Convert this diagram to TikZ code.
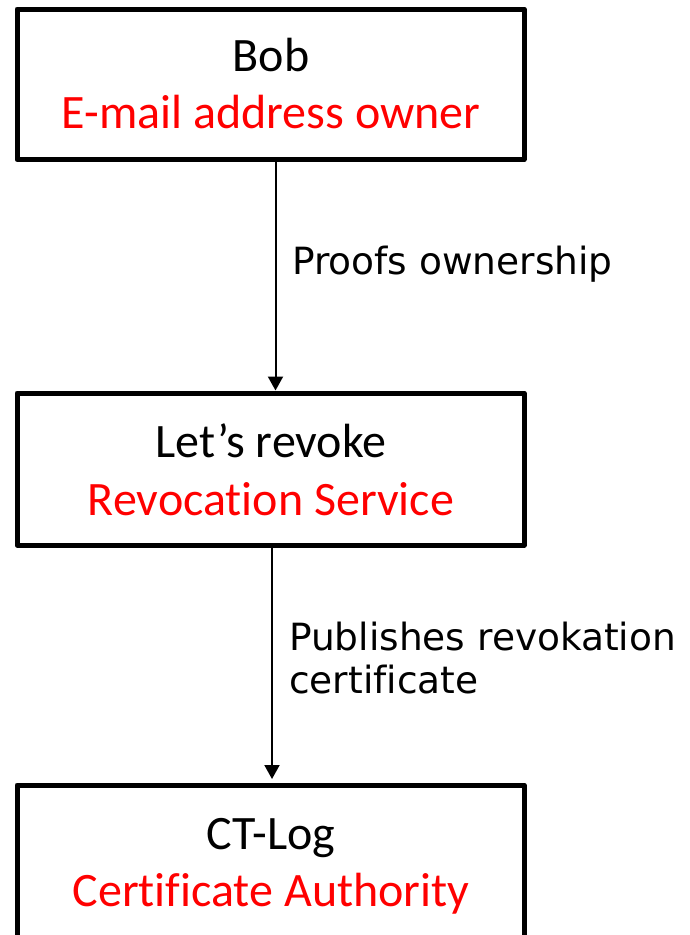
\documentclass[tikz,border=0pt]{standalone}
\usepackage{fontspec}
\setmainfont{Carlito}[Ligatures=NoCommon]
\newfontfamily\labelfont{DejaVu Sans}[Ligatures=NoCommon]
\usetikzlibrary{arrows.meta}
\definecolor{rolered}{RGB}{255,0,0}
\tikzset{
  box/.style={draw=black, line width=5pt, line join=round},
  title/.style={anchor=base, inner sep=0pt, font=\fontsize{48}{57}\selectfont},
  role/.style={title, text=rolered},
  flow/.style={draw=black, line width=2pt, -{Triangle[length=14pt,width=15pt]}},
  flowlabel/.style={anchor=base west, inner sep=0pt, align=left,
    font=\labelfont\fontsize{37.5}{43}\selectfont}
}
\begin{document}
\begin{tikzpicture}[x=1pt, y=-1pt]
  \useasboundingbox (0,0) rectangle (690,935);
  % the three parties
  \draw[box] (17,9) rectangle (524,159.5);
  \draw[box] (17,393) rectangle (524,545);
  \draw[box] (17,785) rectangle (524,938);
  \node[title] (bob) at (271,71) {Bob};
  \node[role] (bobrole) at (271,128) {E-mail address owner};
  \node[title] (lr) at (271,457) {Let’s revoke};
  \node[role] (lrrole) at (271,515) {Revocation Service};
  \node[title] (ct) at (271,849) {CT-Log};
  \node[role] (ctrole) at (271,906) {Certificate Authority};
  % attachment points on the box edges
  \coordinate (b1bot) at (275.5,162);
  \coordinate (b2top) at (275.5,390.5);
  \coordinate (b2bot) at (272,547.5);
  \coordinate (b3top) at (272,779);
  % connectors
  \draw[flow] (b1bot) -- (b2top);
  \draw[flow] (b2bot) -- (b3top);
  \node[flowlabel] (l1) at (292,274) {Proofs ownership};
  \node[flowlabel] (l2) at (289,693) {Publishes revokation\\certificate};
\end{tikzpicture}
\end{document}
